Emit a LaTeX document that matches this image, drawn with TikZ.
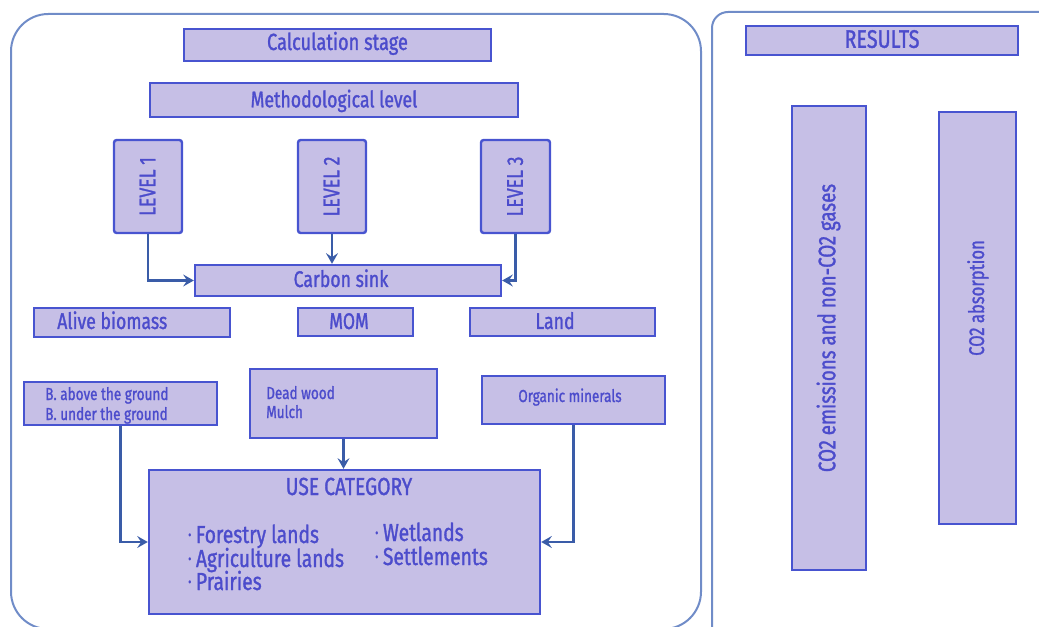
\documentclass[tikz,border=0pt]{standalone}
\usepackage{fontspec}
\setmainfont{Fira Sans}[FakeStretch=0.78, FakeBold=1.2]
\usetikzlibrary{arrows.meta}
\definecolor{boxfill}{RGB}{198,191,230}
\definecolor{boxline}{RGB}{72,84,208}
\definecolor{txt}{RGB}{76,76,204}
\definecolor{frame}{RGB}{112,140,200}
\definecolor{arr}{RGB}{58,92,168}
\begin{document}
\begin{tikzpicture}[x=0.75pt,y=-0.75pt,
  box/.style={draw=boxline, fill=boxfill, line width=1.8pt, text=txt, inner sep=0pt,
    font=\fontsize{17}{20}\selectfont, text height=12.5pt, text depth=1.5pt},
  sz/.style 2 args={minimum width=#1*0.75pt, minimum height=#2*0.75pt},
  lbl/.style={text=txt, inner sep=0pt, font=\fontsize{17}{20}\selectfont},
  big/.style={text=txt, inner sep=0pt, font=\fontsize{18.5}{22}\selectfont},
  small/.style={text=txt, inner sep=0pt, font=\fontsize{13}{15}\selectfont},
  link/.style={draw=arr, line width=2.2pt, -{Stealth[length=8pt,width=9pt,inset=3pt]}},
  frm/.style={draw=frame, line width=1.5pt}]
\useasboundingbox (0,0) rectangle (1039,627);

% outer frames
\draw[frm, rounded corners=28pt] (11,14) rectangle (701,629);
\draw[frm, rounded corners=12pt] (712,12) rectangle (1070,660);

% calculation side
\node[box, sz={307}{32}, text depth=5pt, font=\fontsize{17.5}{20}\selectfont] (calc) at (337.5,45) {Calculation stage};
\node[box, sz={368}{34}] (meth) at (334,100) {Methodological level};
\node[box, sz={93}{68}, rotate=90, rounded corners=2pt] (lv1) at (148,186.5) {LEVEL 1};
\node[box, sz={93}{68}, rotate=90, rounded corners=2pt] (lv2) at (332,186.5) {LEVEL 2};
\node[box, sz={93}{69}, rotate=90, rounded corners=2pt] (lv3) at (515.5,186.5) {LEVEL 3};
\node[box, sz={306}{31}] (sink) at (348,280.5) {};
\node[lbl, anchor=base] (sinkT) at (341,287) {Carbon sink};

\node[box, sz={196}{29}] (alive) at (132,322.5) {};
\node[lbl, anchor=base west] (aliveT) at (57,329) {Alive biomass};
\node[box, sz={115}{28}] (mom) at (355.5,322) {};
\node[lbl, anchor=base] (momT) at (349,329) {MOM};
\node[box, sz={185}{28}] (land) at (562.5,322) {};
\node[lbl, anchor=base] (landT) at (555,329) {Land};

\node[box, sz={193}{43}] (bio) at (120.5,403.5) {};
\node[small, anchor=base west] (bioA) at (45,400) {B. above the ground};
\node[small, anchor=base west] (bioB) at (45,420) {B. under the ground};
\node[box, sz={187}{69}] (dead) at (343.5,403.5) {};
\node[small, anchor=base west] (deadA) at (266,399) {Dead wood};
\node[small, anchor=base west] (deadB) at (266,418) {Mulch};
\node[box, sz={183}{48}] (org) at (573.5,400) {};
\node[small, anchor=base] (orgT) at (570,402) {Organic minerals};

\node[box, sz={391}{144}] (use) at (344.5,542) {};
\node[big, anchor=base] (useT) at (349,495) {USE CATEGORY};
\newcommand\itm{{\fontsize{9}{9}\selectfont\raisebox{3pt}{•}}\hspace{3.5pt}}
\node[big, anchor=base west] (u1) at (188,543) {\itm Forestry lands};
\node[big, anchor=base west] (u2) at (188,567) {\itm Agriculture lands};
\node[big, anchor=base west] (u3) at (188,590) {\itm Prairies};
\node[big, anchor=base west] (u4) at (375,541) {\itm Wetlands};
\node[big, anchor=base west] (u5) at (375,565) {\itm Settlements};

% connectors
\draw[link] (lv1.west) |- (sink.west);
\draw[link] (lv2.west) -- (lv2.west |- sink.north);
\draw[link] (lv3.west) |- (sink.east);
\draw[link] (bio.south) |- (use.west);
\draw[link] (dead.south) -- (dead.south |- use.north);
\draw[link] (org.south) |- (use.east);

% results side
\node[box, sz={272}{29}, font=\fontsize{19}{22}\selectfont] (res) at (882,40.5) {RESULTS};
\node[box, sz={74}{464}, line width=1.5pt] (emi) at (829,338) {};
\node[lbl, rotate=90, font=\fontsize{18}{21}\selectfont, text height=12.5pt, text depth=1.5pt] (emiT) at (828,328) {CO2 emissions and non-CO2 gases};
\node[box, sz={77}{412}, line width=1.5pt] (abs) at (977.5,318) {};
\node[lbl, rotate=90, font=\fontsize{16}{19}\selectfont, text height=12pt, text depth=1.5pt] (absT) at (977,298) {CO2 absorption};
\end{tikzpicture}
\end{document}
